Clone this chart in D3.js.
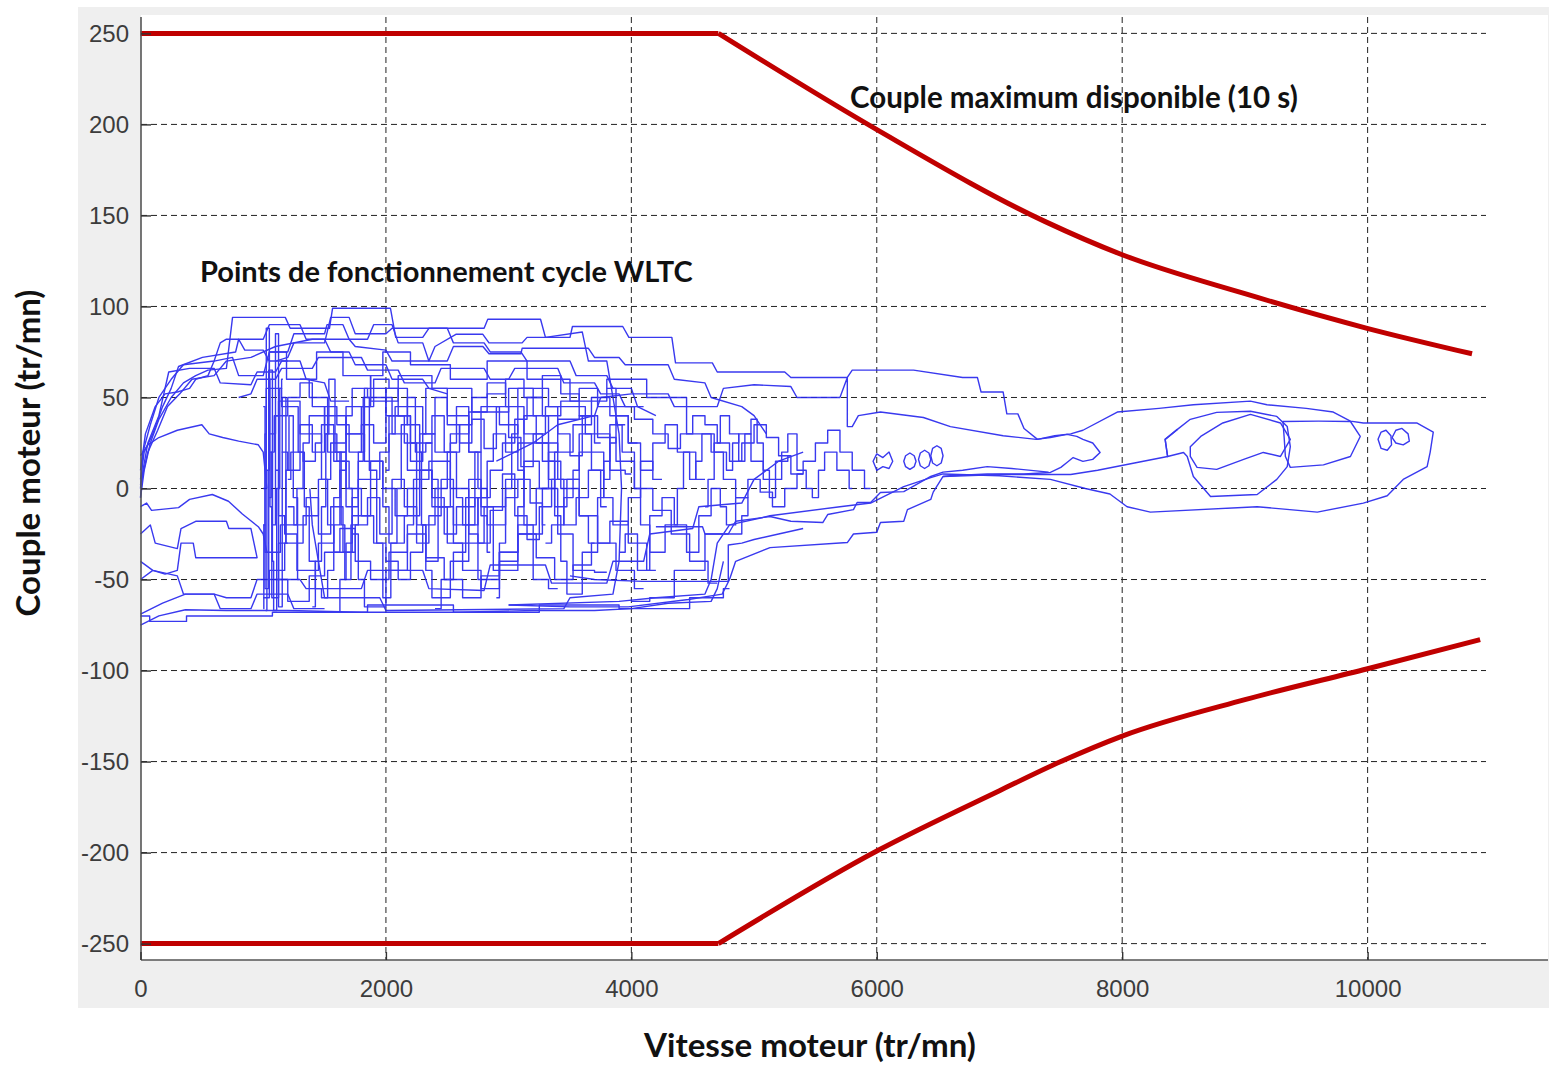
<!DOCTYPE html>
<html><head><meta charset="utf-8">
<script src="https://cdn.jsdelivr.net/npm/d3@7"></script>
<style>html,body{margin:0;padding:0;background:#fff;}svg{display:block;}</style>
</head><body>
<script>
// ---------- DATA ----------
const xTicks = [0, 2000, 4000, 6000, 8000, 10000];
const yTicks = [250, 200, 150, 100, 50, 0, -50, -100, -150, -200, -250];
const xDomain = [0, 11470];
const yDomain = [-259, 259];

const maxRpmUpper    = [0, 4709, 6004, 7373, 8000, 9000, 9996, 10851];
const maxTorqueUpper = [250, 250, 197, 146.6, 128.4, 107, 88, 74];
const maxRpmLower    = [0, 4709, 6004, 7000, 7500, 8000, 9000, 10000, 10917];
const maxTorqueLower = [-250, -250, -199, -166, -150, -136, -116, -99, -83];

const xTitle = "Vitesse moteur (tr/mn)";
const yTitle = "Couple moteur (tr/mn)";
const noteMax = "Couple maximum disponible (10 s)";
const noteWltc = "Points de fonctionnement cycle WLTC";

// WLTC operating-point traces [rpm, torque] (drawn point to point)
const trace01 = [[0,-5],[30,10],[80,25],[150,38],[250,50],[350,58],[450,62],[550,65],[700,66],[750,94],[1180,94],[1220,88],[1540,88],[1565,99],[2037,99],[2080,83],[2300,83],[2350,88],[2800,88],[2830,93],[3260,93],[3300,83],[3600,86],[3650,70],[3800,70],[3850,50],[3900,30],[3920,0],[3900,-40],[3850,-58],[3500,-60],[3450,-66],[2000,-67],[1950,-60],[1500,-60],[1450,-40],[1400,-20],[1380,0]];
const trace02 = [[0,2],[60,20],[140,32],[220,45],[320,52],[420,60],[600,62],[700,70],[900,72],[1100,78],[1400,82],[1700,82],[1750,78],[2000,76],[2050,70],[2350,70],[2400,78],[2570,84.7],[2790,84.7],[2840,80],[3110,80],[3150,83],[3500,83],[3520,89],[3930,89],[3980,83],[4330,83],[4360,69],[4660,69],[4700,64],[5250,64],[5300,61],[5760,61],[5800,65],[6300,65],[6700,61],[6820,61],[6850,53],[7030,53],[7060,41],[7150,41],[7200,33],[7310,27],[7450,29],[7580,30],[7680,32],[7960,42],[8300,44],[8580,46],[9045,48],[9180,46],[9500,44],[9720,42],[9860,37],[9965,36],[10400,36],[10535,31],[10510,20],[10485,12],[10290,5],[10160,-4],[9965,-8],[9590,-13],[9100,-10],[8230,-13],[8040,-10],[7900,-3],[7700,0],[7415,5],[7000,7],[6540,8],[6440,6],[6220,1],[5950,-8],[5700,-10],[5130,-15],[4800,-20],[4700,-30],[4650,-50],[4600,-58],[4200,-60],[3900,-62],[3000,-64]];
const trace03 = [[2900,15],[3200,25],[3400,35],[3700,40],[3750,50],[4000,52],[4300,52],[4350,45],[4700,45],[4750,55],[5000,57],[5300,56],[5350,50],[5700,50],[5760,61],[5760,34],[5800,34],[5850,40],[6030,42],[6380,39],[6600,34],[7030,29],[7300,27],[7415,28],[7550,29.7],[7630,28.6],[7680,27],[7760,25],[7820,19.8],[7760,16],[7680,14.9],[7600,17],[7550,14.3],[7500,11.6],[7415,8.8],[7200,8],[6900,8],[6600,7],[6540,6.6]];
const trace04 = [[3000,-64],[3500,-65],[3975,-65],[4465,-61],[4740,-58],[4800,-50],[4850,-40],[5130,-32.5],[5760,-29.7],[5810,-25],[6000,-24],[6030,-18.7],[6220,-18],[6250,-11.6],[6440,-6],[6460,-2],[6540,6.6],[7000,7.7],[7580,7.7],[7800,10],[8100,14],[8370,17.6],[8350,27],[8450,32.5]];
const trace05 = [[4200,-21],[4580,-21],[4600,-25],[4790,-25],[4850,-18],[5130,-15.4],[5300,-18],[5560,-18.7],[5600,-14.3],[5810,-11.6],[5840,-7.7],[5950,-7.7],[6030,-2.2],[6220,-1.7],[6440,6.6],[6540,9],[6700,10],[6900,12],[7100,11],[7400,9]];
const trace06 = [[3500,-48],[3700,-50],[4090,-51],[4790,-51],[4790,-31],[4900,-30],[5000,-28],[5200,-25],[5400,-22]];
const trace07 = [[0,18],[60,24],[150,28],[300,32],[500,35],[560,30],[670,28],[800,26],[960,24],[1000,20],[1030,0]];
const trace08 = [[0,5],[30,20],[100,30],[180,45],[250,55],[310,67],[505,72],[775,75],[800,82],[1000,82],[1050,90],[1300,90],[1350,82],[1500,82],[1550,75],[1700,75],[1750,68],[2000,68],[2050,60],[2300,60],[2350,55],[2500,52]];
const trace09 = [[0,10],[40,30],[120,45],[200,52],[300,53],[400,55],[450,60],[550,62],[600,70],[750,72],[800,62],[1000,62],[1050,75],[1200,75],[1250,85],[1500,85],[1520,90],[1650,90],[1700,82],[1850,82],[1900,90],[2050,90],[2100,80],[2300,80],[2350,70],[2500,70],[2550,78],[2790,78],[2840,74],[3100,74],[3110,77],[3650,77],[3700,72],[3900,72],[3950,68],[4300,68],[4350,60],[4600,58],[4650,50],[4900,45],[5000,40],[5100,30]];
const trace10 = [[0,-5],[20,10],[60,25],[150,40],[230,64],[400,66],[600,66],[650,58],[900,57],[950,64],[1100,64],[1150,70],[1300,70],[1350,60],[1500,58],[1550,48],[1700,48]];
const trace11 = [[0,-10],[50,-8],[90,-12],[310,-10.5],[400,-6],[585,-3.3],[717,-7],[830,-14],[960,-21],[1000,-25],[1030,-35]];
const trace12 = [[0,-25],[80,-20],[120,-30],[300,-33],[330,-22],[450,-18],[700,-18],[720,-22],[900,-22],[950,-38],[700,-38],[450,-38],[430,-30],[330,-30],[300,-45],[200,-47],[100,-45],[0,-50]];
const trace13 = [[0,-75],[150,-70],[366,-66.6],[700,-67],[1200,-67],[1800,-68],[2600,-68],[3200,-67],[3700,-67],[4000,-66],[4300,-63],[4650,-62],[4700,-55],[4750,-40]];
const trace14 = [[0,-69],[180,-63],[366,-58],[600,-58],[650,-66],[900,-66],[950,-58],[1200,-58],[1250,-66],[1500,-66]];
const trace15 = [[0,-40],[100,-45],[300,-48],[350,-58],[600,-58],[700,-60],[900,-60],[950,-50],[1300,-50],[1350,-55],[1800,-55],[1850,-45],[2300,-45],[2350,-55],[2800,-56],[2850,-42],[3300,-42],[3350,-52],[3800,-52],[3850,-40],[4100,-40],[4150,-25],[4500,-22],[4550,-10],[4900,-8],[5000,5],[5200,15],[5400,20]];
const trace31 = [[1100,70],[1200,72],[1250,80],[1500,80],[1550,94],[1700,94],[1750,85],[2000,85],[2050,88],[2500,88],[2550,80],[2800,80],[2850,75],[3100,75],[3150,70],[3500,70],[3550,62],[3800,62],[3850,55],[4000,55],[4050,45],[4200,40]];
const trace32 = [[800,50],[900,52],[950,60],[1100,60],[1150,66],[1400,66],[1450,72],[1800,72],[1850,65],[2100,65],[2150,58],[2400,58],[2450,66],[2800,66],[2850,60],[3000,60],[3050,66],[3400,66],[3450,58],[3700,58],[3750,52],[3900,52],[3950,45],[4100,45]];
const trace33 = [[0,0],[20,20],[80,35],[150,50],[250,60],[350,68],[600,70],[650,80],[700,82],[800,82],[850,76],[1000,76],[1050,70],[1200,70]];

// WLTC traces recorded as torque levels (drawn as staircases)
const trace16 = [[1000,0],[1050,55],[1250,45],[1320,20],[1350,-10],[1400,-40],[1450,-55],[1500,-60],[1550,-45],[1600,-20],[1650,10],[1700,40],[1750,55],[1950,50],[2150,30],[2200,10],[2300,-20],[2350,-45],[2400,-60],[2650,-40],[2700,-10],[2750,20],[2800,45],[3050,35],[3100,10],[3150,-20],[3250,-50],[3400,-55]];
const trace17 = [[1050,-5],[1080,20],[1100,40],[1150,48],[1450,30],[1500,5],[1550,-20],[1600,-35],[1850,-15],[1900,5],[2000,20],[2050,40],[2350,25],[2400,5],[2450,-10],[2650,-30],[2950,-10],[3000,5],[3250,25],[3550,5],[3600,-15],[3700,-30]];
const trace18 = [[1000,-20],[1030,-35],[1250,-20],[1300,0],[1350,25],[1400,40],[1650,20],[1700,0],[1750,-25],[1800,-50],[1850,-65],[2150,-45],[2200,-20],[2250,5],[2300,30],[2350,55],[2650,40],[2700,20],[2800,0],[2850,-20],[2900,-45],[3250,-25],[3300,0],[3350,20],[3450,38],[3700,40]];
const trace19 = [[1100,10],[1150,-15],[1200,-25],[1350,-45],[1550,-30],[1600,-5],[1650,20],[1700,30],[1950,15],[2000,-10],[2050,-30],[2250,-15],[2300,5],[2400,15],[2650,0],[2700,-25],[2800,-50],[3050,-35],[3100,-10],[3150,15],[3350,0],[3450,-25],[3600,-45],[3800,-46]];
const trace20 = [[1020,-67],[1040,10],[1060,75],[1320,60],[1550,75],[1750,62],[2000,48],[2200,62],[2550,55],[2850,42],[3150,55],[3500,45],[3750,30],[3900,10],[4000,8]];
const trace21 = [[1600,-68],[1650,-50],[1700,-30],[1750,-5],[1800,20],[1850,45],[1900,62],[2050,75],[2350,68],[2700,60],[2950,70],[3350,60],[3650,48],[3950,60],[4300,50],[4600,30],[4700,20],[4800,5],[4900,-5],[5000,-15],[4800,-25],[4400,-45],[4300,-60],[4000,-62]];
const trace22 = [[4800,-55],[4700,-60],[4250,-66],[3550,-64],[2950,-68],[2150,-64],[1550,-68],[600,-70],[150,-73],[0,-70]];
const trace23 = [[1000,-66],[1010,-20],[1020,30],[1030,88],[1070,20],[1080,-40],[1090,-67],[1130,0],[1140,55],[1160,60]];
const trace24 = [[1050,60],[1060,-10],[1080,-60],[1170,-30],[1200,10],[1220,40],[1270,-5],[1290,-50]];
const trace25 = [[2000,10],[2050,30],[2100,45],[2250,35],[2300,20],[2350,25],[2400,40],[2550,20],[2600,-5],[2650,-20],[2800,-5],[2850,15],[2900,30],[3050,20],[3100,25],[3150,40],[3300,25],[3350,5],[3400,-10],[3550,5],[3600,20],[3750,10],[3800,-5],[3900,-20],[4050,-5],[4100,15],[4250,5]];
const trace26 = [[1200,5],[1250,20],[1400,15],[1450,25],[1500,35],[1650,15],[1700,-10],[1850,5],[1900,15],[2050,0],[2100,-15],[2250,0],[2300,10],[2450,-5],[2500,-25],[2650,-10],[2700,5],[2850,-10],[2900,-20],[3050,-5],[3100,5],[3250,-8],[3300,-20]];
const trace27 = [[3300,-30],[3400,-20],[3500,-5],[3550,10],[3600,30],[3750,20],[3800,5],[3850,25],[3900,40],[4050,25],[4100,10],[4250,25],[4300,35],[4450,20],[4500,5],[4550,15],[4600,30],[4750,20],[4800,10],[4850,25],[4900,30],[5050,15],[5100,5],[5250,15],[5300,18]];
const trace28 = [[4600,-10],[4650,5],[4700,25],[4750,40],[4850,30],[4900,15],[4950,30],[5000,38],[5050,25],[5100,10],[5150,-5],[5200,5],[5250,20],[5300,30],[5400,10],[5450,0],[5500,-5],[5550,10],[5600,20],[5750,10],[5800,0]];
const trace29 = [[1400,-65],[1450,-40],[1500,-10],[1520,30],[1550,60],[1620,20],[1650,-20],[1680,-50],[1750,-20],[1800,15],[1830,50],[1900,10],[1950,-30],[2000,-60],[2080,-30],[2100,0],[2150,35],[2200,50],[2280,20],[2300,-20],[2350,-40],[2500,-10],[2550,25],[2600,45],[2750,20],[2800,-15],[2850,-35]];
const trace30 = [[2900,-60],[2950,-30],[3000,0],[3050,30],[3100,55],[3300,40],[3350,15],[3400,-15],[3450,-40],[3500,-58],[3700,-35],[3750,-5],[3800,15],[3850,35],[4000,20],[4050,0],[4100,-20],[4200,-35],[4350,-20],[4400,0],[4450,20],[4600,5]];
const trace34 = [[1000,-60],[1100,-45],[1250,-30],[1400,-15],[1500,5],[1600,25],[1750,45],[1900,55],[2100,40],[2200,25],[2300,10],[2450,-10],[2550,-30],[2700,-45],[2850,-55],[3000,-40],[3150,-20],[3300,0],[3450,20],[3600,35],[3750,50],[3900,40],[4050,25]];
const trace35 = [[1050,30],[1150,40],[1250,50],[1350,58],[1450,45],[1550,30],[1650,15],[1750,0],[1850,-15],[1950,-30],[2050,-40],[2150,-50],[2250,-35],[2350,-20],[2450,0],[2550,20],[2650,35],[2750,50],[2900,58],[3050,45],[3200,30],[3350,15],[3500,0],[3650,-15],[3800,-30],[3950,-45],[4100,-55]];
const trace36 = [[1100,-50],[1300,-62],[1450,-48],[1550,-35],[1700,-22],[1800,-40],[1950,-50],[2100,-35],[2250,-25],[2400,-38],[2550,-50],[2700,-60],[2850,-48],[3000,-35],[3150,-25],[3300,-38],[3450,-50],[3600,-42],[3750,-30],[3900,-18],[4050,-30],[4200,-45]];
const trace37 = [[1150,20],[1250,10],[1350,35],[1450,20],[1550,45],[1650,35],[1750,20],[1850,35],[1950,25],[2050,55],[2150,40],[2250,15],[2350,30],[2450,50],[2550,35],[2650,25],[2750,38],[2850,22],[2950,45],[3050,28],[3150,12],[3250,30],[3350,45],[3450,30],[3550,18],[3650,40],[3750,25]];
const trace38 = [[1200,-10],[1300,-20],[1400,-5],[1500,-25],[1600,-10],[1700,-35],[1800,-20],[1900,-5],[2000,-25],[2100,5],[2200,-10],[2300,-30],[2400,-15],[2500,5],[2600,-20],[2700,-5],[2800,-30],[2900,-12],[3000,8],[3100,-15],[3200,-28],[3300,-10],[3400,5],[3500,-20],[3600,-5],[3700,10],[3800,-10]];
const trace39 = [[3800,55],[3950,45],[4100,38],[4250,30],[4350,22],[4450,30],[4550,40],[4650,35],[4750,25],[4850,15],[4950,25],[5050,35],[5150,28],[5250,18],[5350,8],[5450,15],[5550,25],[5650,32],[5750,20],[5850,10],[5950,0]];
const trace40 = [[3900,-35],[4000,-25],[4100,-45],[4200,-15],[4300,-5],[4400,-20],[4500,-35],[4600,-15],[4700,0],[4750,-10],[4800,-20],[4900,-5],[5000,5],[5100,-2],[5200,-10],[5300,0],[5400,8]];
const trace41 = [[1000,45],[1030,-55],[1060,65],[1090,-20],[1110,85],[1140,-65],[1170,50],[1200,-30]];
const trace42 = [[2400,-66],[2500,-50],[2600,-35],[2700,-20],[2800,-5],[2900,10],[3000,25],[3100,38],[3200,50],[3350,62],[3500,52],[3650,40],[3800,28],[3950,15],[4100,0],[4250,-12],[4400,-25],[4550,-40],[4700,-52]];
const trace43 = [[1300,60],[1450,50],[1600,40],[1750,30],[1850,45],[1950,60],[2100,55],[2250,45],[2350,30],[2450,20],[2600,30],[2750,42],[2900,52],[3050,60],[3200,50],[3350,40],[3500,48],[3650,55],[3800,45],[3950,35]];

// closed loops [rpm, torque]
const loopA = [[8500,19.8],[8370,17.6],[8350,27],[8450,32.5],[8555,38],[8770,41.8],[9045,42.4],[9260,39.6],[9345,34],[9370,23],[9345,12],[9260,5],[9100,-3.3],[8720,-4.4],[8580,6.6],[8530,17.6]];
const loopB = [[8555,23],[8640,28.6],[8820,36],[9045,40.7],[9290,36],[9370,27],[9290,17.6],[9150,19.8],[8990,16],[8770,10.5],[8610,11.6],[8555,17.6]];
const loopC = [[9310,36.8],[9600,37],[9860,36.8],[9940,28.6],[9860,17.6],[9640,13],[9370,11.6],[9330,17.6],[9320,28]];
const loopD = [[10085,27],[10110,31],[10150,32],[10190,29],[10195,24],[10160,21],[10110,22]];
const loopE = [[10200,28],[10230,32],[10280,33],[10330,30],[10340,26],[10290,24],[10230,25]];
const loopF = [[6220,15],[6235,18],[6270,19.5],[6305,18],[6320,15],[6305,12],[6270,10.5],[6235,12]];
const loopG = [[6340,16],[6355,19.5],[6390,21],[6425,19.5],[6440,16],[6425,12.5],[6390,11],[6355,12.5]];
const loopH = [[6440,18],[6455,22],[6490,23.5],[6525,22],[6540,18],[6525,14],[6490,12.5],[6455,14]];
const loopI = [[5970,15],[6000,19],[6050,17],[6100,20],[6130,15],[6100,11],[6050,12],[6000,10]];

const openTraces = [trace01,trace02,trace03,trace04,trace05,trace06,trace07,trace08,trace09,trace10,trace11,trace12,trace13,trace14,trace15,trace31,trace32,trace33];
const stepTraces = [trace16,trace17,trace18,trace19,trace20,trace21,trace22,trace23,trace24,trace25,trace26,trace27,trace28,trace29,trace30,trace34,trace35,trace36,trace37,trace38,trace39,trace40,trace41,trace42,trace43];
const closedTraces = [loopA,loopB,loopC,loopD,loopE,loopF,loopG,loopH,loopI];

// ---------- DRAWING ----------
const W = 1549, H = 1065;
const svg = d3.select("body").append("svg").attr("width", W).attr("height", H);

svg.append("rect").attr("x", 78).attr("y", 7).attr("width", 1471).attr("height", 1001).attr("fill", "#efefef");
const plot = {left: 141, right: 1548, top: 15, bottom: 960};
svg.append("rect").attr("x", plot.left).attr("y", plot.top).attr("width", plot.right - plot.left).attr("height", plot.bottom - plot.top).attr("fill", "#ffffff");

const x = d3.scaleLinear().domain(xDomain).range([140.5, 1548]);
const y = d3.scaleLinear().domain(yDomain).range([960, 17]);

// grid
const grid = svg.append("g");
grid.selectAll(".hg").data(yTicks).join("line")
  .attr("x1", plot.left).attr("x2", 1486)
  .attr("y1", d => y(d)).attr("y2", d => y(d))
  .attr("stroke", "#222").attr("stroke-width", 1).attr("stroke-dasharray", "6,4");
grid.selectAll(".vg").data(xTicks.filter(d => d > 0)).join("line")
  .attr("x1", d => x(d)).attr("x2", d => x(d))
  .attr("y1", 17).attr("y2", plot.bottom)
  .attr("stroke", "#222").attr("stroke-width", 1).attr("stroke-dasharray", "6,4");

// WLTC traces
const line = d3.line().x(d => x(d[0])).y(d => y(d[1]));
const stepLine = d3.line().x(d => x(d[0])).y(d => y(d[1])).curve(d3.curveStep);
const lineClosed = d3.line().x(d => x(d[0])).y(d => y(d[1])).curve(d3.curveLinearClosed);
const blue = svg.append("g").attr("fill", "none").attr("stroke", "#2424ee").attr("stroke-width", 1.4).attr("stroke-linejoin", "round").attr("opacity", 0.9);
blue.selectAll(".ot").data(openTraces).join("path").attr("d", line);
blue.selectAll(".st").data(stepTraces).join("path").attr("d", stepLine);
blue.selectAll(".ct").data(closedTraces).join("path").attr("d", lineClosed);

// max torque curves: flat part straight, falling part smooth
const redFlat = d3.line().x(d => x(d[0])).y(d => y(d[1]));
const redSmooth = d3.line().x(d => x(d[0])).y(d => y(d[1])).curve(d3.curveMonotoneX);
const upper = maxRpmUpper.map((r, i) => [r, maxTorqueUpper[i]]);
const lower = maxRpmLower.map((r, i) => [r, maxTorqueLower[i]]);
[upper, lower].forEach(c => {
  svg.append("path").attr("d", redFlat(c.slice(0, 2))).attr("fill", "none").attr("stroke", "#c00000").attr("stroke-width", 5);
  svg.append("path").attr("d", redSmooth(c.slice(1))).attr("fill", "none").attr("stroke", "#c00000").attr("stroke-width", 5).attr("stroke-linejoin", "round");
});

// axes
const yAxis = d3.axisLeft(y).tickValues(yTicks).tickSize(-10).tickPadding(12).tickFormat(d => String(d));
const xAxis = d3.axisBottom(x).tickValues(xTicks).tickSize(-8).tickPadding(20).tickFormat(d => String(d));
const gy = svg.append("g").attr("transform", `translate(${plot.left},0)`).call(yAxis);
const gx = svg.append("g").attr("transform", `translate(0,${plot.bottom})`).call(xAxis);
[gx, gy].forEach(g => {
  g.select(".domain").attr("stroke", "#555").attr("stroke-width", 1.6);
  g.selectAll(".tick line").attr("stroke", "#333").attr("stroke-width", 1.4);
  g.selectAll(".tick text").attr("font-family", "'Liberation Sans', Arial, sans-serif").attr("font-size", 24).attr("fill", "#3c3c3c");
});
gy.select(".domain").attr("d", `M0,17V${plot.bottom}`);
gx.select(".domain").attr("d", `M${plot.left},0H1548`);
gy.selectAll(".tick text").attr("x", -12);

function fit(sel, target) {
  const w = sel.node().getComputedTextLength();
  const fs = parseFloat(sel.attr("font-size"));
  sel.attr("font-size", fs * target / w);
}
const font = "Lato, 'Open Sans', sans-serif";

const t1 = svg.append("text").text(noteMax).attr("x", 850).attr("y", 108)
  .attr("font-family", font).attr("font-weight", 700).attr("font-size", 24).attr("fill", "#111");
fit(t1, 448);
const t2 = svg.append("text").text(noteWltc).attr("x", 200).attr("y", 282)
  .attr("font-family", font).attr("font-weight", 700).attr("font-size", 24).attr("fill", "#111");
fit(t2, 493);
const t3 = svg.append("text").text(xTitle).attr("x", 810).attr("y", 1057).attr("text-anchor", "middle")
  .attr("font-family", font).attr("font-weight", 700).attr("font-size", 27).attr("fill", "#111");
fit(t3, 332);
const t4 = svg.append("text").text(yTitle).attr("transform", "translate(40,453) rotate(-90)").attr("text-anchor", "middle")
  .attr("font-family", font).attr("font-weight", 700).attr("font-size", 27).attr("fill", "#111");
fit(t4, 327);
</script>
</body></html>
